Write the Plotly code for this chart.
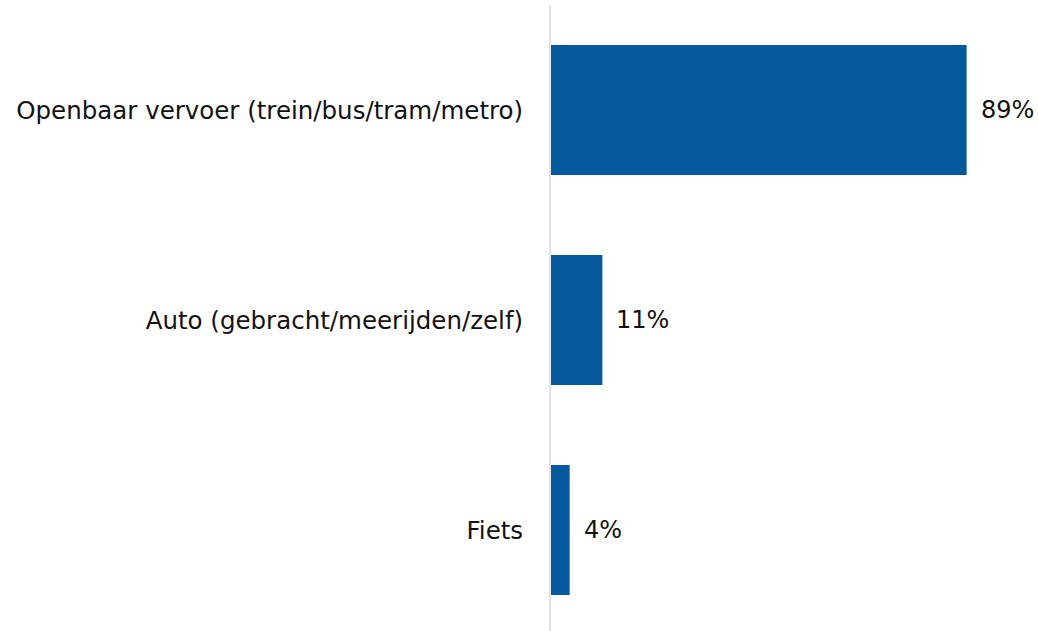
import plotly.graph_objects as go

categories = ["Openbaar vervoer (trein/bus/tram/metro)", "Auto (gebracht/meerijden/zelf)", "Fiets"]
values = [89, 11, 4]
value_labels = ["89%", "11%", "4%"]

bar_color = "#045A9C"
font_family = "DejaVu Sans"

fig = go.Figure()
fig.add_trace(go.Bar(
    y=categories, x=values, orientation="h",
    marker=dict(color=bar_color, line=dict(width=0)),
    width=0.62, hoverinfo="skip",
))
for c, v, t in zip(categories, values, value_labels):
    fig.add_annotation(x=v, y=c, text=t, showarrow=False, xanchor="left",
                       xshift=12, font=dict(family=font_family, size=24, color="#111111"))

fig.update_layout(
    width=1038, height=631,
    margin=dict(l=551, r=20, t=5, b=0),
    plot_bgcolor="white", paper_bgcolor="white",
    showlegend=False,
    xaxis=dict(range=[0, 100], visible=False, showgrid=False, zeroline=False),
    yaxis=dict(range=[2.481, -0.5], showgrid=False, zeroline=False,
               showline=True, linecolor="#e3e3e3", linewidth=2,
               ticks="", ticklabelstandoff=21,
               tickfont=dict(family=font_family, size=24.5, color="#111111")),
)
fig.write_html("out.html", config={"displayModeBar": False},
               post_script="document.body.style.margin='0';document.body.style.overflow='hidden';")
